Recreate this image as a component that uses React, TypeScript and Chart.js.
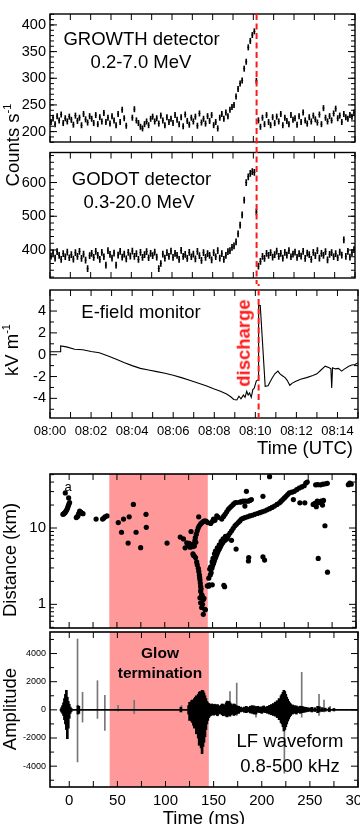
import React, { useEffect, useRef } from 'react';
import { Chart, registerables } from 'chart.js';

Chart.register(...registerables);

const FONT = '"Liberation Sans", Arial, Helvetica, sans-serif';
Chart.defaults.font.family = FONT;
Chart.defaults.color = '#000';

// ------------------------------------------------------------------ DATA
// Gamma-ray count rates, 0.1-minute (6 s) bins starting at 08:00 UTC
const GAMMA_BIN_MIN = 0.1;
const GROWTH_COUNTS: (number | null)[] = [
  218, 226, 214, 229, 221, 232, 216, 225, 219, 228,
  222, 213, 230, 220, 226, 212, 233, 223, 217, 229,
  224, 216, 231, 214, 227, 219, 235, 218, 226, 215,
  229, 221, 212, 233, 218, 241, 225, 211, null, null,
  226, 242, 221, 216, 209, 206, 214, 219, 212, 224,
  228, 219, 225, 215, 230, 221, 212, 227, 218, 224,
  216, 231, 222, 214, 227, 210, 232, 220, 213, 226,
  219, 228, 211, 234, 217, 224, 215, 229, 220, 231,
  212, 218, 206, 226, 233, 224, 236, 229, 241, 246,
  250, 266, 280, 290, 296, 318, 331, 358, 370, 381,
  388, 295, 221, 209, 226, 214, 231, 218, 212, 227,
  216, 228, 219, 233, 212, 226, 220, 214, 231, 222,
  225, 213, 229, 218, 236, 221, 215, 227, 219, 230,
  223, 217, 232, 214, 244, 226, 219, 229, 221, 234,
  243, 225, 230, 218, 233, 227, 224, 231, 228, 236,
];
const GROWTH_ERR = 5;
const GODOT_COUNTS: (number | null)[] = [
  382, 391, 376, 395, 384, 372, 389, 380, 394, 377,
  386, 373, 392, 381, 396, 375, 388, 370, 345, 383,
  390, 378, 396, 384, 372, 393, 380, 355, 398, 387,
  376, 391, 355, 385, 396, 379, 388, 374, 393, 382,
  397, 381, 389, 372, 393, 378, 386, 395, 377, 390,
  383, 394, 379, 345, 360, 388, 376, 392, 381, 397,
  378, 390, 384, 372, 399, 381, 387, 375, 393, 380,
  388, 374, 396, 383, 369, 392, 378, 389, 384, 371,
  392, 380, 398, 376, 389, 372, 384, 395, 398, 408,
  412, 424, 448, 474, 504, 548, 600, 617, 627, 632,
  630, 513, 352, 366, 381, 375, 390, 384, 392, 379,
  386, 397, 381, 390, 376, 393, 385, 398, 380, 388,
  394, 378, 389, 382, 396, 375, 391, 386, 372, 393,
  383, 398, 376, 390, 384, 395, 371, 387, 392, 380,
  389, 377, 394, 385, 430, 381, 396, 379, 392, 401,
];
const GODOT_ERR = 9;
const DISCHARGE_MIN = 10.16;

// E-field: [minutes after 08:00, kV/m]
const EFIELD: [number, number][] = [
  [0, 0.27], [0.5, 0.27], [0.52, 0.8], [0.8, 0.72], [1.2, 0.5], [1.6, 0.45], [2.0, 0.3],
  [2.4, 0.18], [2.8, -0.1], [3.2, -0.4], [3.6, -0.72], [4.0, -1.0], [4.4, -1.25], [4.8, -1.4],
  [5.2, -1.55], [5.6, -1.7], [6.0, -1.88], [6.4, -2.1], [6.8, -2.35], [7.2, -2.6], [7.6, -2.85],
  [8.0, -3.15], [8.3, -3.35], [8.6, -3.6], [8.8, -3.85], [8.95, -4.1], [9.1, -4.15], [9.2, -3.8],
  [9.3, -4.05], [9.42, -3.7], [9.5, -3.9], [9.58, -3.35], [9.65, -3.7], [9.72, -3.5], [9.8, -3.9],
  [9.88, -3.2], [9.95, -3.05], [10.05, -2.4], [10.14, -2.3], [10.16, 4.5], [10.24, 4.5],
  [10.48, -2.9], [10.62, -2.85], [10.8, -2.2], [10.95, -1.75], [11.1, -1.5], [11.2, -1.75],
  [11.3, -1.9], [11.45, -2.1], [11.55, -2.35], [11.68, -2.8], [11.8, -2.6], [11.95, -2.45],
  [12.2, -2.25], [12.5, -2.1], [12.8, -1.9], [13.0, -1.75], [13.2, -1.4], [13.4, -1.05],
  [13.6, -1.2], [13.68, -1.3], [13.72, -3.05], [13.76, -1.2], [13.9, -1.3], [14.05, -1.25],
  [14.2, -1.5], [14.35, -1.3], [14.55, -1.05], [14.7, -0.95], [14.85, -0.9], [15.0, -0.75],
];

// Radio source distance: [ms, km]
const DISTANCE: [number, number][] = [
  [-4, 28.8], [-0.5, 24.8], [-6.5, 15.1], [-5.8, 15.3], [-5, 15.6], [-4.2, 16], [-3.3, 16.6],
  [-2.5, 17.3], [-1.7, 18.2], [-1, 19.3], [-0.3, 20.5], [0.5, 21.6],
  [7.5, 13.7], [8.3, 14], [9.2, 14.4], [10, 15.5], [11, 16.7], [12, 16.2], [12.7, 15.9], [13.5, 15.6], [14.5, 15.4],
  [28.2, 13.1], [35, 13.1], [36.3, 13.5], [37.5, 14], [39.6, 14.4],
  [51.4, 11.8], [54.8, 8.8], [56.9, 13.1], [62.8, 14], [61.7, 6.35], [67.2, 20.4], [70, 8.8],
  [74.8, 5.53], [80.4, 15.1], [80.7, 10.2],
  [102.4, 6.35], [116.2, 7.6], [119.6, 7.2], [121.3, 5.5], [123, 6.4], [124.5, 5.9], [125.5, 6.3],
  [126.5, 5.6], [127.5, 9.0], [128, 6.0], [129, 5.7], [130, 6.2], [131, 5.8], [131.6, 6.9],
  [132.5, 6.5], [135.5, 14.0],
  [132, 7.5], [133, 8.3], [134, 9.2], [135, 10], [136, 10.7], [137.5, 11.3], [139, 11.8],
  [140.5, 12.2], [142, 12.4], [143.5, 12.2], [145, 11.8],
  [129.5, 4.6], [130, 4.4], [131, 4.3], [132.2, 4.1], [133.4, 3.6], [134, 3.3], [135.1, 2.96],
  [135.6, 2.7], [136.2, 2.43], [136.5, 2.25], [136.8, 2.1], [137.2, 1.9], [137.5, 1.72],
  [137.5, 1.49], [138, 1.6], [138.6, 1.34], [136.8, 1.22], [137.5, 1.05], [139, 1.3],
  [140.3, 1.16], [138.6, 0.91], [142, 0.86], [140.3, 0.74], [139.5, 1.0], [141, 1.2], [142.4, 0.85],
  [144.5, 1.75], [145.8, 1.73], [146.5, 1.8], [149.7, 1.8], [147.6, 2.43], [148.5, 2.6], [149.3, 2.96],
  [150, 3.2], [151, 3.44], [151.8, 3.7], [152.7, 3.98], [153.5, 4.2], [154.4, 4.5], [155.3, 4.8],
  [156.2, 5.1], [157, 5.3], [157.9, 5.6], [158.8, 5.9], [159.6, 6.2], [160.5, 6.4], [161.3, 6.66],
  [163, 6.9], [164.7, 7.2], [165.6, 7.6], [166.5, 8.0], [168.2, 8.6], [169.9, 9.2], [171.6, 9.9],
  [173.4, 10.7], [175, 11.2], [176.8, 11.8], [178.5, 12.4], [180.2, 13.1], [182, 13.4],
  [183.8, 13.7], [186.3, 14], [188.9, 14.4], [191.5, 14.7], [194.1, 15.1], [196.7, 15.5],
  [199.3, 15.9], [201.8, 16.3], [204.4, 16.7], [207, 17.3], [209.6, 17.9], [212.2, 18.6],
  [214.8, 19.4], [217.4, 20.4], [220, 21.4], [221.7, 22.5], [223.4, 23.6], [225.1, 24.8],
  [226.8, 26], [228.5, 27.4], [230.3, 28.8], [232.9, 29.5], [235.5, 30.2], [238, 31.8],
  [240.6, 33.4], [243.2, 34.5], [245.8, 35.8], [247.5, 38.8], [249, 40],
  [146, 2.2], [147, 2.9], [148, 3.1], [149.5, 3.6], [150.5, 4.0], [152, 4.6], [153, 5.0],
  [155, 5.5], [157, 6.0], [159, 6.7], [161, 7.2], [163.5, 7.8],
  [148, 11.5], [150, 12.3], [151, 13.1], [152.5, 12.6], [154.4, 14.4], [156, 13.8], [159.6, 13.1],
  [161.5, 14.2], [163.1, 15.1], [164.8, 16.3], [166.5, 17.6], [168.2, 18.5], [169.9, 19.4],
  [171.6, 20.4], [173.4, 21.4], [175, 21.6], [178.6, 21.8], [180.3, 22.1], [182, 22.5],
  [184.5, 22.5], [187.2, 22.5], [189, 23], [190.6, 23.6],
  [183.8, 19.4], [185.4, 30.2], [202.7, 26], [209.6, 47], [174.6, 5.3], [161.8, 1.78], [162.6, 1.7],
  [169.8, 6.9], [187.8, 4.1], [187.5, 3.7], [202.7, 4.2], [204.4, 3.8], [234.5, 23.6],
  [241.3, 21.4], [246.5, 21.4], [255.2, 20.4], [257, 21], [258.5, 19], [259.5, 22.5], [261, 21.5],
  [263.5, 22.5], [265, 20], [266, 23], [267.5, 10.7], [260.5, 4.0], [270.2, 2.64],
  [257.8, 36.8], [260, 37], [263, 36.8], [265.5, 37.5], [268.2, 38], [270, 38.5],
  [292, 37], [293.5, 38.8], [295, 37.5],
];

const GLOW_START_MS = 42;
const GLOW_END_MS = 145;

// LF waveform envelope: [ms, min, max]
const LF_ENVELOPE: [number, number, number][] = [
  [-8, -150, 150], [-7, -250, 300], [-6, -400, 500], [-5, -700, 800], [-4, -1000, 1100],
  [-3, -1400, 1390], [-2, -2050, 900], [-1, -1300, 600], [0, -600, 400], [1, -250, 200], [2, -120, 100],
  [9, -300, 300], [10, -250, 250], [116, -150, 190],
  [124, -300, 300], [125, -750, 540], [126, -600, 500], [127, -800, 650], [128, -900, 700],
  [129, -1100, 600], [130, -1300, 800], [131, -1250, 900], [132, -1700, 1000], [133, -1500, 850],
  [134, -2000, 1100], [135, -2520, 1250], [136, -2200, 1300], [137, -2700, 1100], [138, -3110, 1390],
  [139, -2600, 1360], [140, -2300, 1200], [141, -1900, 1000], [142, -1400, 800], [143, -1000, 600],
  [144, -750, 500], [145, -550, 450], [146, -450, 350], [147, -400, 380], [148, -350, 420],
  [149, -300, 350], [150, -380, 300], [151, -300, 400], [152, -250, 280], [153, -350, 330],
  [154, -420, 380], [155, -300, 300], [156, -250, 250], [157, -200, 220], [158, -300, 350],
  [159, -350, 420], [160, -420, 380], [161, -380, 300], [162, -300, 350], [163, -450, 500],
  [164, -500, 620], [165, -420, 550], [166, -380, 600], [167, -450, 500], [168, -350, 420],
  [169, -280, 320], [170, -300, 350], [171, -400, 420], [172, -350, 380], [173, -250, 300],
  [174, -300, 280], [175, -220, 240], [176, -250, 260], [178, -150, 200], [180, -120, 150],
  [182, -180, 200], [184, -200, 250], [186, -150, 180], [188, -220, 260], [190, -250, 300],
  [192, -300, 280], [194, -300, 220], [196, -180, 250], [198, -200, 200], [200, -250, 220],
  [202, -180, 280], [204, -200, 200], [206, -250, 250], [208, -300, 320], [210, -350, 380],
  [212, -400, 450], [214, -450, 550], [216, -550, 650], [218, -700, 800], [220, -900, 1000],
  [221, -1000, 1100], [222, -1200, 1250], [223, -1500, 1390], [224, -1400, 1300], [225, -1200, 1100],
  [226, -1000, 900], [227, -800, 750], [228, -650, 600], [229, -500, 500], [230, -400, 420],
  [232, -300, 350], [234, -250, 300], [236, -300, 280], [238, -200, 220], [240, -250, 260],
  [242, -200, 250], [244, -180, 200], [246, -150, 180], [248, -120, 150], [250, -100, 130],
  [252, -150, 180], [255, -120, 150], [258, -200, 250], [260, -150, 220], [263, -120, 160],
  [266, -100, 120], [270, -120, 150], [275, -80, 100],
];
// Isolated LF pulses: [ms, min, max]
const LF_SPIKES: [number, number, number][] = [
  [8.6, -3700, 5030], [13.8, -870, 1250], [29.3, -610, 2070], [37, -1460, 1040], [50.7, -100, 330],
  [67.5, -280, 680], [116.5, -100, 310], [167, -200, 1300], [174, -400, 1900], [194, -520, 250],
  [223.5, -4500, 800], [241.5, -520, 2670], [259.5, -400, 1100], [264.7, -150, 700], [271, -150, 250],
];
const LF_BASELINE: [number, number][] = [[-10, 0], [300, 0]];

// Axis ticks
const TIME_TICKS_MIN = [0, 2, 4, 6, 8, 10, 12, 14];
const GROWTH_TICKS = [200, 250, 300, 350, 400];
const GODOT_TICKS = [400, 500, 600];
const EFIELD_TICKS = [-4, -2, 0, 2, 4];
const DIST_TICKS = [1, 10];
const MS_TICKS = [0, 50, 100, 150, 200, 250, 300];
const AMP_TICKS = [-4000, -2000, 0, 2000, 4000];

// ------------------------------------------------------------------ helpers
const steps = (a: number, b: number, s: number) => {
  const out: number[] = [];
  for (let v = a; v <= b + 1e-9; v += s) out.push(Math.round(v * 1000) / 1000);
  return out;
};
const logMinor = (lo: number, hi: number) => {
  const out: number[] = [];
  for (const d of [0.1, 1, 10]) for (let k = 2; k <= 9; k++) { const v = k * d; if (v >= lo && v <= hi) out.push(v); }
  return out;
};

const frameTicksPlugin = {
  id: 'frameTicks',
  afterDatasetsDraw(chart: any, _a: any, o: any) {
    const { ctx, chartArea: a } = chart;
    const xs = chart.scales.x, ys = chart.scales.y;
    ctx.save();
    ctx.strokeStyle = '#000';
    ctx.lineWidth = 1;
    const seg = (x1: number, y1: number, x2: number, y2: number) => {
      ctx.beginPath(); ctx.moveTo(x1, y1); ctx.lineTo(x2, y2); ctx.stroke();
    };
    const yTick = (v: number, len: number) => {
      const p = ys.getPixelForValue(v);
      if (p < a.top - 0.5 || p > a.bottom + 0.5) return;
      seg(a.left, p, a.left + len, p); seg(a.right, p, a.right - len, p);
    };
    const xTick = (v: number, len: number) => {
      const p = xs.getPixelForValue(v);
      if (p < a.left - 0.5 || p > a.right + 0.5) return;
      seg(p, a.top, p, a.top + len); seg(p, a.bottom, p, a.bottom - len);
    };
    (o.yMinor || []).forEach((v: number) => yTick(v, 4));
    (o.yMajor || []).forEach((v: number) => yTick(v, 7));
    (o.xMinor || []).forEach((v: number) => xTick(v, 4));
    (o.xMajor || []).forEach((v: number) => xTick(v, 6));
    ctx.lineWidth = o.frameWidth || 1.4;
    ctx.strokeRect(a.left, a.top, a.right - a.left, a.bottom - a.top);
    ctx.restore();
  },
};

const vlinePlugin = {
  id: 'vline',
  afterDatasetsDraw(chart: any, _a: any, o: any) {
    if (o.value == null) return;
    const { ctx, chartArea: a } = chart;
    const x = chart.scales.x.getPixelForValue(o.value);
    const y0 = o.extendTop ? 0 : a.top;
    const y1 = o.extendBottom ? chart.height : a.bottom;
    ctx.save();
    ctx.strokeStyle = '#ff1a1a';
    ctx.lineWidth = 2;
    ctx.setLineDash([6, 3.5]);
    ctx.lineDashOffset = ((o.pageTop || 0) + y0 - 14) % 9.5;
    ctx.beginPath(); ctx.moveTo(x, y0); ctx.lineTo(x, y1); ctx.stroke();
    ctx.restore();
  },
};

const shadePlugin = {
  id: 'shade',
  beforeDatasetsDraw(chart: any, _a: any, o: any) {
    if (o.from == null) return;
    const { ctx, chartArea: a } = chart;
    const x0 = chart.scales.x.getPixelForValue(o.from);
    const x1 = chart.scales.x.getPixelForValue(o.to);
    ctx.save();
    ctx.fillStyle = o.color;
    ctx.fillRect(x0, a.top, x1 - x0, a.bottom - a.top);
    ctx.restore();
  },
};

function yAxis(min: number, max: number, ticks: number[], size: number, type = 'linear') {
  return {
    type, min, max, position: 'left',
    grid: { display: false, drawTicks: false }, border: { display: false },
    afterBuildTicks: (s: any) => { s.ticks = ticks.map((v) => ({ value: v })); },
    ticks: { font: { size, family: FONT }, color: '#000', padding: 4, autoSkip: false, callback: (v: any) => String(v) },
    afterFit: (s: any) => { s.width = 50; s.paddingTop = 0; s.paddingBottom = 0; },
  };
}
function xAxis(min: number, max: number, opts: { show: boolean; ticks?: number[]; fmt?: (v: number) => string; size?: number; height?: number; pad?: number }) {
  return {
    type: 'linear', min, max, position: 'bottom', offset: false, display: opts.show,
    grid: { display: false, drawTicks: false }, border: { display: false },
    afterBuildTicks: (s: any) => { if (opts.ticks) s.ticks = opts.ticks.map((v) => ({ value: v })); },
    ticks: { font: { size: opts.size || 13, family: FONT }, color: '#000', padding: opts.pad ?? 5, autoSkip: false, maxRotation: 0, callback: (v: any) => (opts.fmt ? opts.fmt(Number(v)) : String(v)) },
    afterFit: (s: any) => { s.height = opts.height || 0; s.paddingLeft = 0; s.paddingRight = 0; },
  };
}
const baseOpts = (padTop: number, padBottom: number) => ({
  responsive: false, animation: false, events: [] as any[],
  layout: { padding: { top: padTop, bottom: padBottom, left: 0, right: 2 } },
});
const timeFmt = (v: number) => '08:' + String(Math.round(v)).padStart(2, '0');

function gammaConfig(counts: (number | null)[], err: number, yMin: number, yMax: number, yTicks: number[], minorStep: number, padTop: number, padBottom: number, pageTop: number, extendTop: boolean) {
  const bars: any[] = []; const caps: any[] = [];
  counts.forEach((v, i) => {
    if (v == null) return;
    const t = (i + 0.5) * GAMMA_BIN_MIN;
    bars.push({ x: t, y: [v - err, v + err] });
    caps.push({ x: t, y: v });
  });
  return {
    type: 'bar',
    data: {
      datasets: [
        { type: 'bar', data: bars, backgroundColor: '#000', barThickness: 1, grouped: false, borderWidth: 0 },
        { type: 'scatter', data: caps, pointStyle: 'line', pointRadius: 1, borderColor: '#000', borderWidth: 1 },
      ],
    },
    options: {
      ...baseOpts(padTop, padBottom),
      plugins: {
        legend: { display: false }, tooltip: { enabled: false },
        frameTicks: { yMajor: yTicks, yMinor: steps(yMin - (yMin % minorStep), yMax, minorStep), xMajor: steps(0, 15, 1) },
        vline: { value: DISCHARGE_MIN, extendTop, extendBottom: true, pageTop },
      },
      scales: { x: xAxis(0, 15, { show: false }), y: yAxis(yMin, yMax, yTicks, 14.5) },
    },
    plugins: [frameTicksPlugin, vlinePlugin],
  };
}

const growthConfig = () => gammaConfig(GROWTH_COUNTS, GROWTH_ERR, 180.5, 420.5, GROWTH_TICKS, 10, 14, 5, 0, false);
const godotConfig = () => gammaConfig(GODOT_COUNTS, GODOT_ERR, 317, 689, GODOT_TICKS, 20, 5.5, 6, 147, true);

const efieldConfig = () => ({
  type: 'line',
  data: {
    datasets: [{ data: EFIELD.map(([t, v]) => ({ x: t, y: v })), borderColor: '#000', borderWidth: 1.1, pointRadius: 0, tension: 0 }],
  },
  options: {
    ...baseOpts(6, 0),
    plugins: {
      legend: { display: false }, tooltip: { enabled: false },
      frameTicks: { yMajor: EFIELD_TICKS, yMinor: [-5, -3, -1, 1, 3, 5], xMajor: steps(0, 15, 1) },
      vline: { value: DISCHARGE_MIN, extendTop: true, extendBottom: false, pageTop: 284 },
    },
    scales: {
      x: xAxis(0, 15, { show: true, ticks: TIME_TICKS_MIN, fmt: timeFmt, size: 13, height: 52, pad: 6 }),
      y: yAxis(-5.8, 5.93, EFIELD_TICKS, 14.5),
    },
  },
  plugins: [frameTicksPlugin, vlinePlugin],
});

const distanceConfig = () => ({
  type: 'scatter',
  data: {
    datasets: [{ data: DISTANCE.map(([t, d]) => ({ x: t, y: d })), backgroundColor: '#000', borderWidth: 0, pointRadius: 2.6 }],
  },
  options: {
    ...baseOpts(4, 1),
    plugins: {
      legend: { display: false }, tooltip: { enabled: false },
      frameTicks: { yMajor: DIST_TICKS, yMinor: logMinor(0.49, 51), xMajor: steps(-25, 300, 25), frameWidth: 1.6 },
      shade: { from: GLOW_START_MS, to: GLOW_END_MS, color: 'rgb(255,153,153)' },
    },
    scales: {
      x: xAxis(-20, 300, { show: false }),
      y: yAxis(0.49, 51, DIST_TICKS, 15, 'logarithmic'),
    },
  },
  plugins: [shadePlugin, frameTicksPlugin],
});

const lfConfig = () => ({
  type: 'bar',
  data: {
    datasets: [
      { type: 'line', data: LF_BASELINE.map(([t, v]) => ({ x: t, y: v })), borderColor: '#000', borderWidth: 1.8, pointRadius: 0 },
      { type: 'bar', data: LF_ENVELOPE.map(([t, lo, hi]) => ({ x: t, y: [lo, hi] })), backgroundColor: '#000', barThickness: 2, grouped: false, borderWidth: 0 },
      { type: 'bar', data: LF_SPIKES.map(([t, lo, hi]) => ({ x: t, y: [lo, hi] })), backgroundColor: '#777', barThickness: 1, grouped: false, borderWidth: 0 },
    ],
  },
  options: {
    ...baseOpts(1, 0),
    plugins: {
      legend: { display: false }, tooltip: { enabled: false },
      frameTicks: { yMajor: AMP_TICKS, yMinor: [-5000, -3000, -1000, 1000, 3000, 5000], xMajor: steps(-25, 300, 25), frameWidth: 1.6 },
      shade: { from: GLOW_START_MS, to: GLOW_END_MS, color: 'rgb(255,153,153)' },
    },
    scales: {
      x: xAxis(-20, 300, { show: true, ticks: MS_TICKS, size: 15, height: 37, pad: 5 }),
      y: yAxis(-5480, 5530, AMP_TICKS, 9),
    },
  },
  plugins: [shadePlugin, frameTicksPlugin],
});

function ChartBox({ top, height, make }: { top: number; height: number; make: () => any }) {
  const ref = useRef<HTMLCanvasElement>(null);
  useEffect(() => {
    const chart = new Chart(ref.current as HTMLCanvasElement, make());
    return () => chart.destroy();
  }, []);
  return <canvas ref={ref} width={360} height={height} style={{ position: 'absolute', left: 0, top, width: 360, height }} />;
}

function Txt({ x, y, children, size = 18.5, bold = false, color = '#000', rotate = 0 }: any) {
  return (
    <div style={{
      position: 'absolute', left: x, top: y, transform: `translate(-50%, -50%) rotate(${rotate}deg)`,
      fontSize: size, fontFamily: FONT, fontWeight: bold ? 'bold' : 'normal', color, whiteSpace: 'nowrap',
      lineHeight: 1, pointerEvents: 'none', textAlign: 'center',
    }}>{children}</div>
  );
}
const sup = (s: string) => <span style={{ fontSize: '0.6em', verticalAlign: '0.7em' }}>{s}</span>;

export default function App() {
  return (
    <div style={{ position: 'absolute', left: 0, top: 0, width: 360, height: 824, overflow: 'hidden', background: '#fff' }}>
      <ChartBox top={0} height={147} make={growthConfig} />
      <ChartBox top={147} height={137} make={godotConfig} />
      <ChartBox top={284} height={186} make={efieldConfig} />
      <ChartBox top={470} height={162} make={distanceConfig} />
      <ChartBox top={631} height={193} make={lfConfig} />

      <Txt x={141.5} y={38.5}>GROWTH detector</Txt>
      <Txt x={141} y={61.5}>0.2-7.0 MeV</Txt>
      <Txt x={141.5} y={179}>GODOT detector</Txt>
      <Txt x={139} y={201.5}>0.3-20.0 MeV</Txt>
      <Txt x={141} y={312}>E-field monitor</Txt>
      <Txt x={244} y={343} bold color="#ff1a1a" rotate={-90}>discharge</Txt>
      <Txt x={305} y={448}>Time (UTC)</Txt>

      <Txt x={11.5} y={145} rotate={-90}>Counts s{sup('-1')}</Txt>
      <Txt x={11} y={350} rotate={-90}>kV m{sup('-1')}</Txt>
      <Txt x={9.5} y={560} rotate={-90}>Distance (km)</Txt>
      <Txt x={10} y={709} rotate={-90}>Amplitude</Txt>

      <Txt x={68} y={486} size={13}>a</Txt>
      <Txt x={160} y={652.5} size={15.5} bold>Glow</Txt>
      <Txt x={160} y={672.5} size={15.5} bold>termination</Txt>
      <Txt x={290} y={741}>LF waveform</Txt>
      <Txt x={290} y={766}>0.8-500 kHz</Txt>
      <Txt x={204} y={818}>Time (ms)</Txt>
    </div>
  );
}
